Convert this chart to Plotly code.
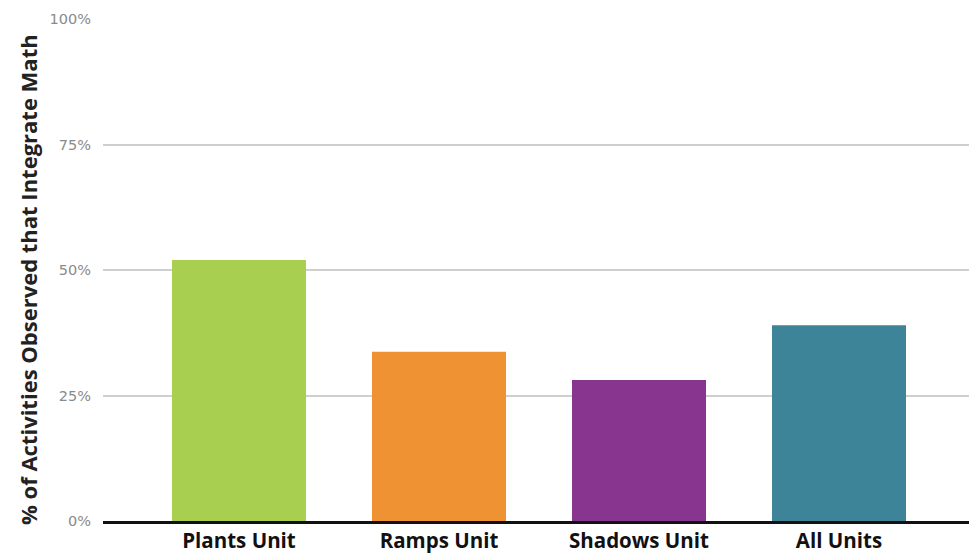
import plotly.graph_objects as go

categories = ["Plants Unit", "Ramps Unit", "Shadows Unit", "All Units"]
values = [52.0, 33.7, 28.1, 39.0]
colors = ["#a8cf50", "#ee9234", "#88358f", "#3e8499"]
y_ticks = [0, 25, 50, 75, 100]
y_tick_labels = ["0%", "25%", "50%", "75%", "100%"]
y_title = "% of Activities Observed that Integrate Math"

W, H = 969, 556
ML, MR, MT, MB = 103, 0, 19, 35
pw, ph = W - ML - MR, H - MT - MB

fig = go.Figure(go.Bar(
    x=categories, y=values, marker_color=colors, marker_line_width=0,
    width=0.67, hoverinfo="skip"))

fig.update_layout(
    width=W, height=H,
    margin=dict(l=ML, r=MR, t=MT, b=MB, autoexpand=False),
    plot_bgcolor="white", paper_bgcolor="white",
    showlegend=False,
    font=dict(family="Open Sans", color="#222"),
)
fig.update_xaxes(
    range=[-0.68, 3.65], automargin=False,
    showline=True, linecolor="#111", linewidth=2.5,
    showgrid=False, ticks="",
    tickfont=dict(family="Open Sans", size=20.5, color="#111", weight="bold"),
    ticklabelstandoff=0,
)
fig.update_yaxes(
    range=[0, 100], automargin=False,
    tickvals=y_ticks, ticktext=y_tick_labels,
    showgrid=True, gridcolor="#cfcfcf", gridwidth=2,
    zeroline=False, showline=False, ticks="",
    tickfont=dict(family="DejaVu Sans", size=14.5, color="#8a8a8a"),
    ticklabelstandoff=11,
)
fig.add_annotation(
    text=y_title, textangle=-90, showarrow=False,
    xref="paper", yref="paper",
    x=(28 - ML) / pw, y=(H - MB - 280) / ph,
    xanchor="center", yanchor="middle",
    font=dict(family="Open Sans", size=22, color="#222", weight="bold"),
)
fig.write_html("out.html")
